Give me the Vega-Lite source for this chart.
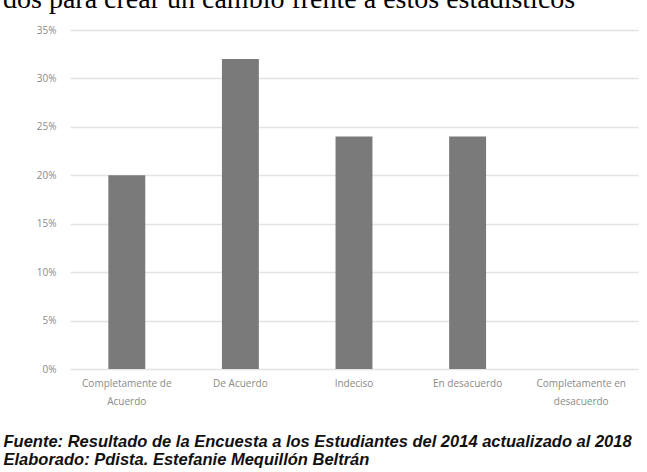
{
  "$schema": "https://vega.github.io/schema/vega-lite/v6.json",
  "width": 568,
  "height": 339,
  "autosize": "none",
  "padding": {"left": 70, "top": 30, "right": 9, "bottom": 103},
  "background": "white",
  "config": {"view": {"stroke": null}},
  "title": {
    "text": "dos para crear un cambio frente a estos estadísticos",
    "font": "Liberation Serif",
    "fontSize": 28,
    "fontWeight": "normal",
    "color": "black",
    "anchor": "start",
    "frame": "group",
    "dx": -67,
    "baseline": "alphabetic",
    "offset": 0,
    "dy": 11
  },
  "data": {
    "values": [
      {"respuesta": "Completamente de Acuerdo", "porcentaje": 0.20},
      {"respuesta": "De Acuerdo", "porcentaje": 0.32},
      {"respuesta": "Indeciso", "porcentaje": 0.24},
      {"respuesta": "En desacuerdo", "porcentaje": 0.24},
      {"respuesta": "Completamente en desacuerdo", "porcentaje": 0.0}
    ]
  },
  "mark": {"type": "bar", "color": "#7a7a7a"},
  "encoding": {
    "x": {
      "field": "respuesta",
      "type": "nominal",
      "sort": null,
      "scale": {"paddingInner": 0.675, "paddingOuter": 0.3375},
      "axis": {
        "labelAngle": 0,
        "labelColor": "#8a8a8a",
        "labelFont": "Open Sans",
        "labelFontSize": 10,
        "labelPadding": 9,
        "labelLimit": 200,
        "labelLineHeight": 18,
        "labelExpr": "datum.label == 'Completamente de Acuerdo' ? ['Completamente de', 'Acuerdo'] : datum.label == 'Completamente en desacuerdo' ? ['Completamente en', 'desacuerdo'] : datum.label",
        "ticks": false,
        "domain": false,
        "title": ["Fuente: Resultado de la Encuesta a los Estudiantes del 2014 actualizado al 2018", "Elaborado: Pdista. Estefanie Mequillón Beltrán"],
        "titleFont": "Liberation Sans",
        "titleFontSize": 16.5,
        "titleFontStyle": "italic",
        "titleFontWeight": "bold",
        "titleColor": "#111111",
        "titleAlign": "left",
        "titleAnchor": "start",
        "titleBaseline": "top",
        "titleLineHeight": 18.5,
        "titleX": -67,
        "titleY": 64
      }
    },
    "y": {
      "field": "porcentaje",
      "type": "quantitative",
      "scale": {"domain": [0, 0.35]},
      "axis": {
        "values": [0, 0.05, 0.1, 0.15, 0.2, 0.25, 0.3, 0.35],
        "format": ".0%",
        "title": null,
        "labelColor": "#8a8a8a",
        "labelFont": "Open Sans",
        "labelFontSize": 10,
        "labelPadding": 14,
        "ticks": false,
        "domain": false,
        "gridColor": "#e3e3e3",
        "gridWidth": 1.5
      }
    }
  }
}
